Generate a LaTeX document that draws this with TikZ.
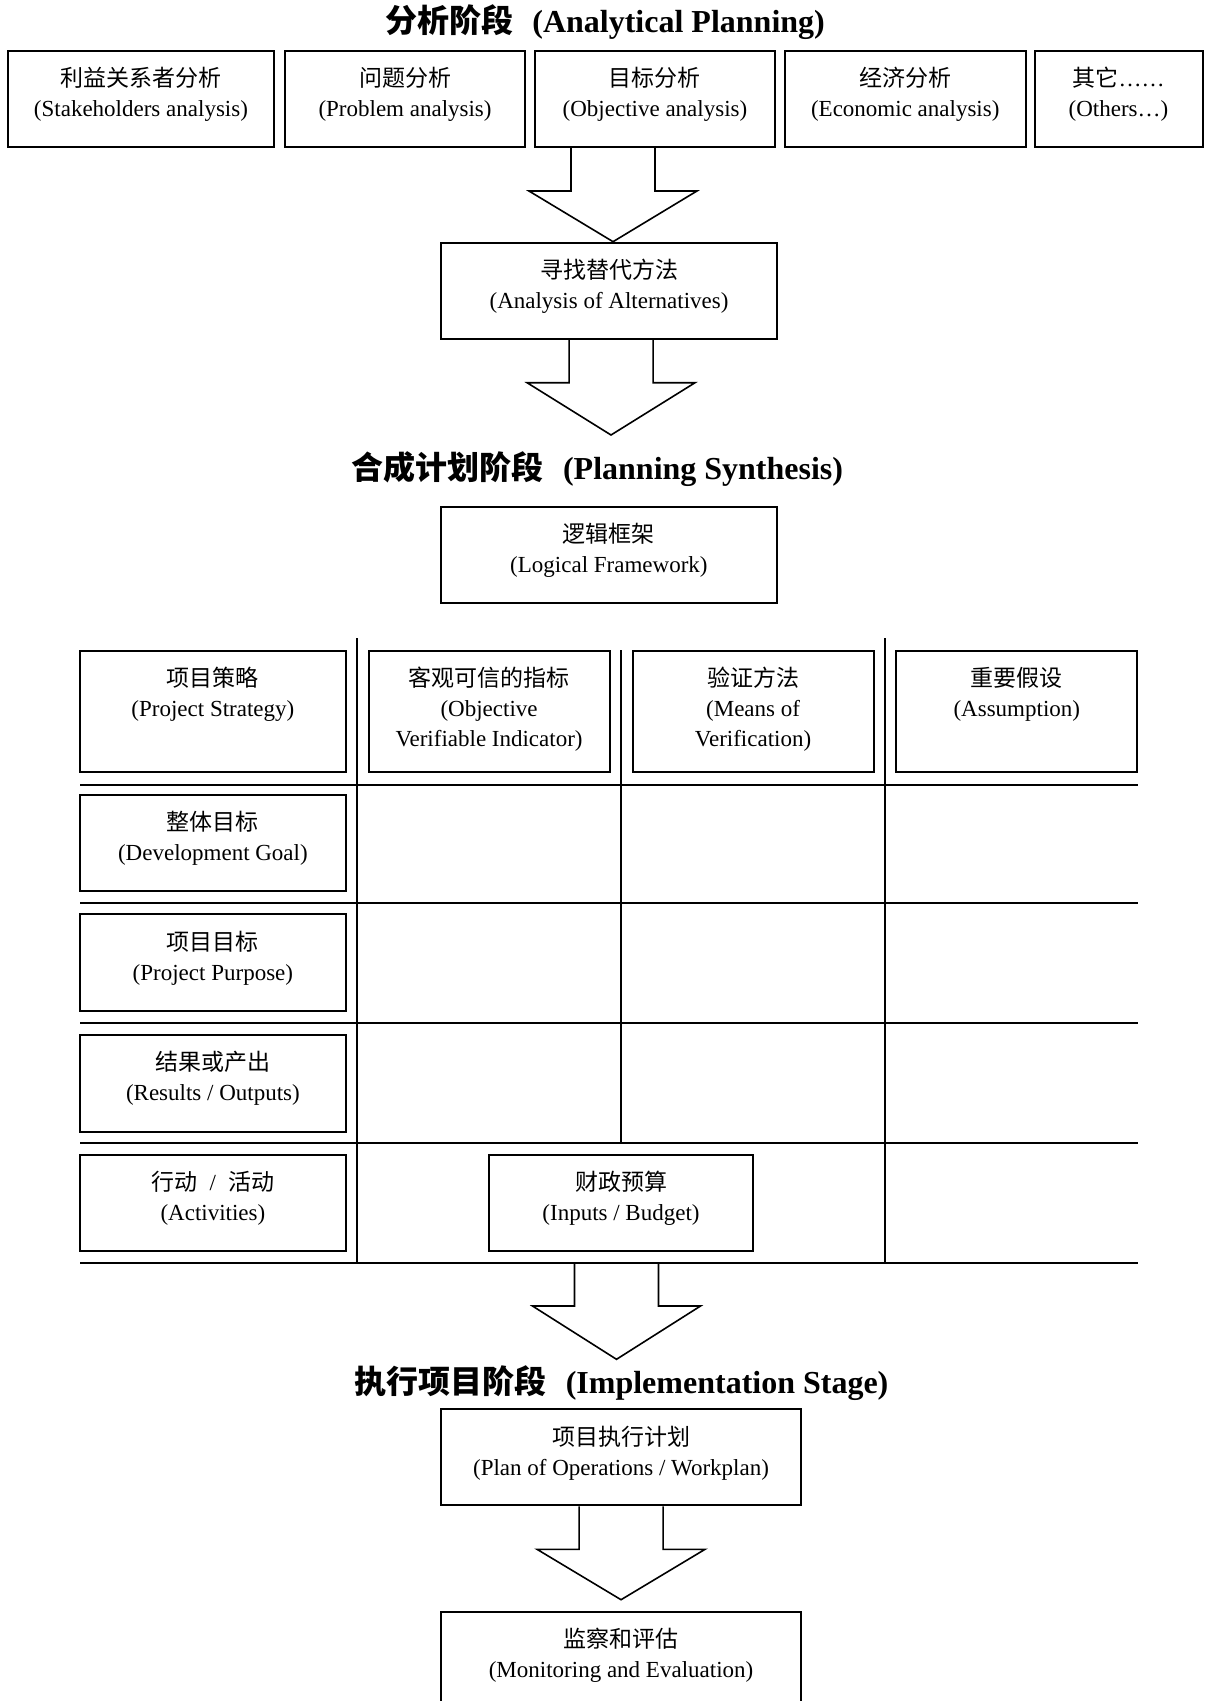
\documentclass[tikz,border=0pt]{standalone}
\usepackage{fontspec}
\setmainfont{Liberation Serif}
\newfontfamily\cjk{Noto Sans CJK SC}
\usetikzlibrary{fit,calc}
\newcommand\mkbox[5]{\node[boxst, fit={(#2,#3) (#4,#5)}] (#1) {};}
\newcommand\barrow[3]{%
  \draw[arrowst] ($(#1)+(-42,0)$) -- ($(#1)+(-42,#3)$) -- ($(#1)+(-84,#3)$) -- (#2)
    -- ($(#1)+(84,#3)$) -- ($(#1)+(42,#3)$) -- ($(#1)+(42,0)$);}
\tikzset{
  boxst/.style={draw, line width=1pt, inner sep=0pt},
  txt/.style={align=center, inner sep=0pt, anchor=north, font=\fontsize{11.5}{15}\selectfont},
  ttl/.style={inner sep=0pt, font=\fontsize{16}{19}\selectfont\bfseries},
  arrowst/.style={line width=0.8pt, line join=miter},
  tline/.style={line width=1pt},
  vline/.style={line width=0.8pt}
}
\begin{document}
\begin{tikzpicture}[x=0.5pt,y=-0.5pt]
\useasboundingbox (0,0) rectangle (1204,1701);

% ---------- Analytical planning ----------
\node[ttl] (t1) at (605,22) {{\cjk 分析阶段}\hspace{0.6em}(Analytical Planning)};

\mkbox{b1}{8.4}{51}{273.5}{147}
\mkbox{b2}{284.7}{51}{525.4}{147}
\mkbox{b3}{534.6}{51}{775.3}{147}
\mkbox{b4}{784.9}{51}{1025.6}{147}
\mkbox{b5}{1034.5}{51}{1202.5}{147}
\node[txt] (b1t) at ($(b1.north)+(0,17)$) {{\cjk 利益关系者分析}\\(Stakeholders analysis)};
\node[txt] (b2t) at ($(b2.north)+(0,17)$) {{\cjk 问题分析}\\(Problem analysis)};
\node[txt] (b3t) at ($(b3.north)+(0,17)$) {{\cjk 目标分析}\\(Objective analysis)};
\node[txt] (b4t) at ($(b4.north)+(0,17)$) {{\cjk 经济分析}\\(Economic analysis)};
\node[txt] (b5t) at ($(b5.north)+(0,17)$) {{\cjk 其它}……\\(Others…)};

\mkbox{alt}{440.9}{242.7}{777.2}{339}
\node[txt] (altt) at ($(alt.north)+(0,17)$) {{\cjk 寻找替代方法}\\(Analysis of Alternatives)};

\coordinate (a1s) at ($(b3.south)+(-42,0)$);
\coordinate (a1t) at ($(alt.north)+(4,0)$);
\barrow{a1s}{a1t}{43}

\coordinate (a2s) at ($(alt.south)+(2,0)$);
\coordinate (a2t) at (611,435);
\barrow{a2s}{a2t}{42.7}

% ---------- Planning synthesis ----------
\node[ttl] (t2) at (597.5,469) {{\cjk 合成计划阶段}\hspace{0.6em}(Planning Synthesis)};

\mkbox{lf}{440.8}{506.7}{777}{603.3}
\node[txt] (lft) at ($(lf.north)+(0,17)$) {{\cjk 逻辑框架}\\(Logical Framework)};

% table lines
\draw[tline] (80.3,785) -- (1137.5,785);
\draw[tline] (80.3,903.3) -- (1137.5,903.3);
\draw[tline] (80.3,1023.3) -- (1137.5,1023.3);
\draw[tline] (80.3,1143.3) -- (1137.5,1143.3);
\draw[tline] (80.3,1263.3) -- (1137.5,1263.3);
\draw[vline] (357,638) -- (357,1263.3);
\draw[vline] (621,650) -- (621,1143.3);
\draw[vline] (885,638) -- (885,1263.3);

\mkbox{h1}{80.3}{651}{345.5}{771.7}
\mkbox{h2}{368.5}{651}{609.6}{771.7}
\mkbox{h3}{632.7}{651}{873.5}{771.7}
\mkbox{h4}{896.2}{651}{1137.4}{771.7}
\node[txt] (h1t) at ($(h1.north)+(0,17)$) {{\cjk 项目策略}\\(Project Strategy)};
\node[txt] (h2t) at ($(h2.north)+(0,17)$) {{\cjk 客观可信的指标}\\(Objective\\Verifiable Indicator)};
\node[txt] (h3t) at ($(h3.north)+(0,17)$) {{\cjk 验证方法}\\(Means of\\Verification)};
\node[txt] (h4t) at ($(h4.north)+(0,17)$) {{\cjk 重要假设}\\(Assumption)};

\mkbox{r1}{80.3}{795}{345.5}{891}
\mkbox{r2}{80.3}{914.4}{345.5}{1011}
\mkbox{r3}{80.3}{1035}{345.5}{1131.7}
\mkbox{r4}{80.3}{1155}{345.5}{1251}
\mkbox{bud}{489}{1155}{753}{1251}
\node[txt] (r1t) at ($(r1.north)+(0,17)$) {{\cjk 整体目标}\\(Development Goal)};
\node[txt] (r2t) at ($(r2.north)+(0,17)$) {{\cjk 项目目标}\\(Project Purpose)};
\node[txt] (r3t) at ($(r3.north)+(0,17)$) {{\cjk 结果或产出}\\(Results / Outputs)};
\node[txt] (r4t) at ($(r4.north)+(0,17)$) {{\cjk 行动}\hspace{0.55em}/\hspace{0.55em}{\cjk 活动}\\(Activities)};
\node[txt] (budt) at ($(bud.north)+(0,17)$) {{\cjk 财政预算}\\(Inputs / Budget)};

\coordinate (a3s) at (616.5,1263.3);
\coordinate (a3t) at (616.5,1359.3);
\barrow{a3s}{a3t}{42.7}

% ---------- Implementation ----------
\node[ttl] (t3) at (621.5,1383) {{\cjk 执行项目阶段}\hspace{0.6em}(Implementation Stage)};

\mkbox{plan}{440.8}{1409.3}{801.3}{1505.3}
\node[txt] (plant) at ($(plan.north)+(0,17)$) {{\cjk 项目执行计划}\\(Plan of Operations / Workplan)};

\mkbox{me}{440.8}{1611.7}{801.3}{1716}
\node[txt] (met) at ($(me.north)+(0,17)$) {{\cjk 监察和评估}\\(Monitoring and Evaluation)};

\coordinate (a4t) at ($(me.north)+(0,-11)$);
\barrow{plan.south}{a4t}{43}
\end{tikzpicture}
\end{document}
